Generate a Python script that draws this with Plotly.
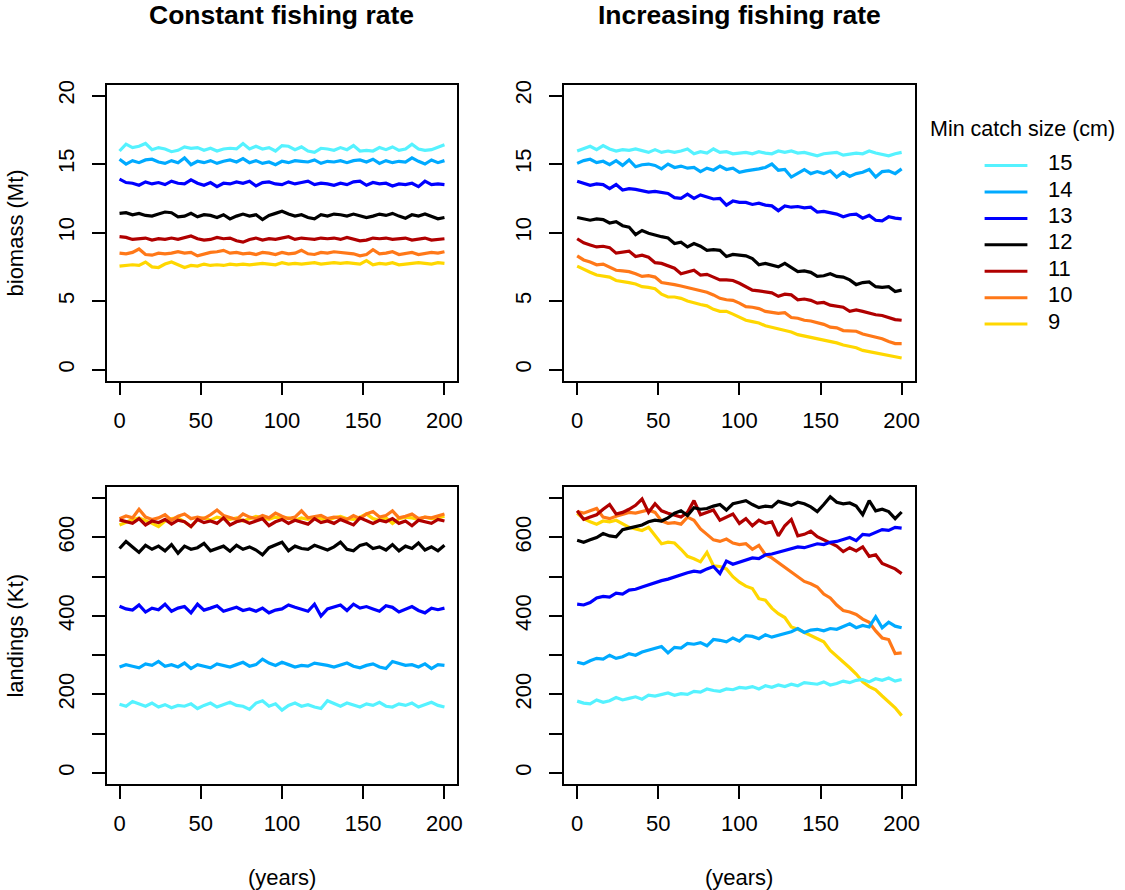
import plotly.graph_objects as go

# ---- data -------------------------------------------------------------
years = list(range(0, 201, 4))
sizes = ["15", "14", "13", "12", "11", "10", "9"]
colors = {
    "15": "#55F2FF",
    "14": "#00AAFF",
    "13": "#0000FF",
    "12": "#000000",
    "11": "#B00000",
    "10": "#FF7818",
    "9": "#FFD700",
}

# biomass (Mt), constant fishing rate
bio_const_15 = [15.95, 16.45, 16.2, 16.3, 16.5, 16.05, 16.2, 16.1, 15.9, 16.0,
                16.25, 16.15, 16.2, 16.0, 16.15, 15.95, 16.1, 16.15, 16.1, 16.5,
                16.1, 16.3, 16.1, 16.2, 15.95, 16.35, 16.3, 16.05, 16.25, 15.95,
                15.85, 16.15, 16.1, 16.0, 16.2, 16.05, 16.35, 15.95, 16.0, 15.95,
                16.2, 16.05, 16.25, 16.0, 16.1, 16.45, 16.1, 16.0, 16.05, 16.2,
                16.4]
bio_const_14 = [15.35, 15.0, 15.25, 15.1, 15.3, 15.35, 15.15, 15.05, 15.25, 15.1,
                15.45, 14.95, 15.2, 15.1, 15.25, 15.05, 15.2, 15.3, 15.15, 15.4,
                15.1, 15.25, 15.05, 15.15, 14.95, 15.2, 15.1, 15.25, 15.2, 15.15,
                15.3, 15.05, 15.2, 15.15, 15.25, 15.1, 15.25, 15.3, 15.15, 15.35,
                15.05, 15.25, 15.1, 15.2, 15.15, 15.45, 15.2, 15.0, 15.3, 15.1,
                15.25]
bio_const_13 = [13.9, 13.65, 13.6, 13.45, 13.7, 13.55, 13.65, 13.5, 13.75, 13.6,
                13.55, 13.85, 13.6, 13.45, 13.65, 13.35, 13.6, 13.55, 13.7, 13.6,
                13.75, 13.4, 13.65, 13.7, 13.55, 13.5, 13.7, 13.55, 13.65, 13.75,
                13.5, 13.6, 13.55, 13.45, 13.6, 13.5, 13.7, 13.75, 13.45, 13.65,
                13.55, 13.6, 13.4, 13.55, 13.5, 13.6, 13.35, 13.75, 13.5, 13.55,
                13.5]
bio_const_12 = [11.4, 11.45, 11.3, 11.4, 11.25, 11.2, 11.35, 11.5, 11.45, 11.15,
                11.2, 11.4, 11.15, 11.3, 11.25, 11.1, 11.3, 11.0, 11.2, 11.35,
                11.2, 11.3, 10.95, 11.25, 11.4, 11.55, 11.35, 11.2, 11.3, 11.1,
                11.0, 11.3, 11.2, 11.35, 11.3, 11.2, 11.35, 11.25, 11.1, 11.2,
                11.35, 11.25, 11.4, 11.2, 11.05, 11.3, 11.2, 11.35, 11.15, 11.0,
                11.1]
bio_const_11 = [9.7, 9.65, 9.5, 9.55, 9.6, 9.45, 9.55, 9.5, 9.6, 9.5,
                9.65, 9.75, 9.55, 9.45, 9.5, 9.65, 9.55, 9.6, 9.4, 9.3,
                9.5, 9.6, 9.45, 9.55, 9.5, 9.6, 9.7, 9.5, 9.6, 9.55,
                9.5, 9.6, 9.55, 9.6, 9.5, 9.65, 9.55, 9.4, 9.45, 9.6,
                9.55, 9.6, 9.5, 9.55, 9.6, 9.45, 9.55, 9.6, 9.45, 9.5,
                9.55]
bio_const_10 = [8.5, 8.45, 8.55, 8.8, 8.4, 8.35, 8.5, 8.45, 8.5, 8.6,
                8.5, 8.55, 8.3, 8.45, 8.55, 8.6, 8.7, 8.5, 8.55, 8.45,
                8.5, 8.4, 8.55, 8.5, 8.4, 8.55, 8.45, 8.5, 8.7, 8.45,
                8.4, 8.55, 8.5, 8.6, 8.55, 8.5, 8.45, 8.3, 8.4, 8.75,
                8.45, 8.5, 8.6, 8.4, 8.5, 8.55, 8.4, 8.5, 8.55, 8.5,
                8.6]
bio_const_9 = [7.55, 7.6, 7.65, 7.6, 7.85, 7.5, 7.45, 7.7, 7.85, 7.65,
               7.45, 7.6, 7.55, 7.7, 7.6, 7.65, 7.6, 7.7, 7.65, 7.7,
               7.65, 7.7, 7.75, 7.7, 7.65, 7.8, 7.7, 7.75, 7.7, 7.75,
               7.8, 7.7, 7.75, 7.8, 7.75, 7.8, 7.75, 7.7, 7.95, 7.65,
               7.75, 7.7, 7.8, 7.65, 7.7, 7.75, 7.8, 7.75, 7.7, 7.8,
               7.75]

# biomass (Mt), increasing fishing rate
bio_incr_15 = [15.95, 16.15, 16.3, 16.05, 16.35, 16.1, 15.95, 16.05, 16.0, 16.1,
               15.95, 15.85, 16.05, 15.85, 15.95, 15.85, 15.95, 16.1, 15.75, 15.9,
               15.8, 16.1, 15.85, 15.9, 15.75, 15.8, 15.85, 15.75, 15.9, 15.8,
               15.75, 15.95, 15.85, 15.95, 15.8, 15.85, 15.7, 15.6, 15.75, 15.8,
               15.85, 15.65, 15.75, 15.8, 15.75, 15.95, 15.8, 15.7, 15.6, 15.75,
               15.85]
bio_incr_14 = [15.05, 15.25, 15.35, 15.1, 15.2, 14.95, 15.25, 14.9, 15.3, 14.8,
               14.95, 15.0, 14.9, 14.65, 15.0, 14.75, 14.85, 14.7, 14.75, 14.45,
               14.7, 14.55, 14.85, 14.6, 14.7, 14.4, 14.5, 14.55, 14.65, 14.75,
               15.0, 14.55, 14.6, 14.05, 14.35, 14.6, 14.3, 14.45, 14.3, 14.5,
               14.05, 14.4, 14.1, 14.3, 14.4, 14.6, 14.05, 14.45, 14.5, 14.3,
               14.65]
bio_incr_13 = [13.75, 13.6, 13.45, 13.55, 13.5, 13.2, 13.5, 13.1, 13.2, 13.15,
               13.05, 12.95, 13.0, 12.95, 12.85, 12.55, 12.5, 12.8, 12.5, 12.75,
               12.6, 12.45, 12.5, 12.0, 12.3, 12.2, 12.2, 12.05, 12.15, 12.0,
               11.95, 11.6, 11.95, 11.85, 11.9, 11.8, 11.85, 11.5, 11.55, 11.45,
               11.35, 11.15, 11.3, 11.35, 11.05, 11.25, 10.9, 10.85, 11.15, 11.05,
               11.0]
bio_incr_12 = [11.1, 11.0, 10.9, 11.0, 10.95, 10.7, 10.8, 10.5, 10.4, 9.85,
               10.15, 9.95, 9.8, 9.7, 9.6, 9.2, 9.3, 8.95, 9.2, 9.0,
               8.7, 8.75, 8.7, 8.25, 8.4, 8.35, 8.3, 8.1, 7.65, 7.75,
               7.6, 7.5, 7.75, 7.45, 7.15, 7.2, 7.1, 6.8, 6.85, 7.0,
               6.8, 6.75, 6.55, 6.2, 6.35, 6.4, 6.05, 6.0, 6.05, 5.7,
               5.8]
bio_incr_11 = [9.55, 9.25, 9.1, 8.95, 9.0, 8.9, 8.5, 8.6, 8.65, 8.25,
               8.35, 8.2, 7.8, 7.75, 7.6, 7.4, 7.0, 7.1, 7.25, 6.9,
               6.95, 6.75, 6.55, 6.55, 6.5, 6.3, 6.05, 5.8, 5.75, 5.7,
               5.6, 5.35, 5.5, 5.45, 5.1, 5.15, 5.05, 4.85, 4.9, 4.7,
               4.6, 4.55, 4.25, 4.35, 4.25, 4.1, 4.0, 3.95, 3.8, 3.65,
               3.6]
bio_incr_10 = [8.3, 8.0, 7.85, 7.65, 7.7, 7.45, 7.25, 7.2, 7.15, 7.0,
               6.8, 6.85, 6.75, 6.35, 6.3, 6.2, 6.1, 6.0, 5.9, 5.75,
               5.65, 5.45, 5.2, 5.1, 5.05, 4.85, 4.6, 4.55, 4.45, 4.25,
               4.2, 4.1, 4.15, 3.8, 3.75, 3.6, 3.55, 3.45, 3.3, 3.1,
               3.05, 2.85, 2.8, 2.8, 2.6, 2.5, 2.4, 2.25, 2.05, 1.9,
               1.9]
bio_incr_9 = [7.55, 7.3, 7.1, 6.9, 6.85, 6.75, 6.5, 6.45, 6.35, 6.25,
              6.05, 6.0, 5.9, 5.5, 5.3, 5.3, 5.2, 5.0, 4.85, 4.75,
              4.65, 4.4, 4.25, 4.25, 4.05, 3.85, 3.6, 3.5, 3.4, 3.2,
              3.1, 2.95, 2.85, 2.75, 2.55, 2.45, 2.4, 2.3, 2.15, 2.05,
              1.95, 1.8, 1.7, 1.6, 1.4, 1.3, 1.2, 1.1, 1.0, 0.95,
              0.85]

# landings (Kt), constant fishing rate
land_const_15 = [175, 170, 182, 176, 170, 178, 168, 174, 166, 172,
                 170, 176, 164, 172, 178, 168, 175, 180, 172, 170,
                 162, 178, 184, 170, 176, 160, 172, 178, 170, 174,
                 168, 164, 184, 176, 170, 178, 172, 168, 176, 172,
                 180, 170, 168, 176, 172, 178, 168, 174, 180, 172,
                 168]
land_const_14 = [270, 276, 272, 268, 278, 274, 284, 272, 276, 270,
                 280, 266, 276, 272, 268, 278, 274, 270, 276, 282,
                 272, 276, 290, 280, 274, 282, 276, 270, 274, 272,
                 280, 278, 274, 270, 276, 280, 272, 268, 274, 278,
                 270, 266, 284, 278, 274, 276, 270, 278, 266, 276,
                 274]
land_const_13 = [425, 418, 415, 428, 410, 420, 416, 430, 412, 420,
                 424, 408, 430, 415, 420, 426, 412, 418, 422, 414,
                 418, 412, 420, 408, 415, 418, 428, 422, 416, 412,
                 430, 400, 418, 422, 428, 414, 430, 420, 424, 418,
                 412, 426, 422, 410, 418, 424, 414, 408, 420, 416,
                 420]
land_const_12 = [572, 590, 576, 562, 580, 570, 578, 566, 582, 560,
                 578, 570, 574, 585, 566, 572, 578, 565, 580, 570,
                 576, 568, 556, 574, 580, 588, 566, 578, 572, 570,
                 580, 574, 568, 576, 588, 570, 566, 580, 584, 572,
                 576, 568, 582, 566, 578, 572, 586, 568, 576, 566,
                 580]
land_const_11 = [645, 640, 636, 648, 632, 642, 638, 646, 634, 644,
                 640, 628, 646, 638, 642, 636, 650, 632, 640, 644,
                 636, 642, 648, 630, 640, 646, 636, 644, 640, 634,
                 648, 638, 642, 636, 646, 640, 632, 650, 642, 636,
                 644, 640, 648, 636, 642, 630, 644, 640, 636, 646,
                 642]
land_const_10 = [648, 655, 650, 672, 652, 646, 650, 658, 644, 654,
                 660, 648, 652, 648, 658, 670, 656, 650, 646, 660,
                 652, 648, 656, 650, 662, 654, 648, 652, 668, 650,
                 654, 656, 648, 652, 650, 646, 656, 648, 660, 666,
                 652, 656, 668, 650, 654, 660, 648, 652, 650, 654,
                 660]
land_const_9 = [632, 640, 646, 650, 644, 636, 628, 642, 648, 650,
                640, 628, 646, 650, 644, 652, 648, 646, 650, 642,
                648, 654, 650, 646, 652, 648, 650, 644, 650, 646,
                652, 648, 644, 650, 654, 648, 646, 652, 660, 648,
                644, 650, 636, 648, 652, 650, 646, 652, 648, 650,
                654]

# landings (Kt), increasing fishing rate
land_incr_15 = [183, 178, 176, 186, 180, 184, 192, 186, 190, 194,
                188, 198, 196, 200, 204, 198, 202, 200, 208, 206,
                214, 210, 208, 214, 212, 218, 216, 220, 214, 222,
                218, 224, 220, 226, 222, 230, 228, 226, 232, 224,
                228, 234, 230, 236, 238, 232, 240, 236, 242, 234,
                238]
land_incr_14 = [282, 278, 286, 292, 290, 300, 292, 296, 304, 300,
                308, 312, 316, 322, 306, 320, 318, 330, 328, 332,
                324, 340, 338, 334, 344, 336, 350, 348, 342, 352,
                346, 350, 356, 360, 368, 358, 364, 366, 362, 368,
                366, 372, 380, 370, 376, 372, 398, 370, 384, 374,
                370]
land_incr_13 = [430, 428, 434, 446, 450, 448, 458, 456, 466, 468,
                474, 480, 486, 490, 494, 500, 506, 510, 514, 512,
                520, 526, 508, 540, 532, 538, 544, 548, 546, 556,
                558, 562, 566, 570, 576, 574, 580, 584, 582, 588,
                590, 596, 600, 592, 608, 606, 614, 620, 618, 626,
                624]
land_incr_12 = [593, 588, 594, 600, 610, 604, 602, 620, 624, 628,
                632, 640, 644, 642, 650, 662, 668, 656, 676, 672,
                674, 680, 684, 670, 686, 690, 694, 684, 676, 680,
                678, 692, 688, 682, 690, 686, 678, 666, 684, 704,
                690, 686, 688, 680, 658, 694, 668, 672, 666, 648,
                665]
land_incr_11 = [668, 646, 652, 658, 672, 684, 660, 664, 672, 682,
                698, 664, 686, 668, 662, 658, 652, 664, 694, 658,
                664, 670, 644, 652, 660, 636, 648, 630, 644, 636,
                640, 604, 630, 646, 604, 608, 616, 602, 594, 586,
                578, 564, 574, 566, 576, 552, 556, 534, 526, 520,
                508]
land_incr_10 = [666, 662, 668, 674, 652, 648, 654, 660, 664, 662,
                666, 670, 664, 642, 636, 638, 634, 652, 644, 622,
                608, 594, 590, 596, 586, 582, 584, 570, 580, 556,
                548, 536, 526, 512, 500, 488, 482, 474, 456, 446,
                428, 414, 410, 404, 392, 384, 362, 344, 340, 304,
                306]
land_incr_9 = [662, 648, 640, 634, 642, 640, 644, 636, 626, 622,
               618, 626, 604, 584, 588, 586, 570, 552, 546, 538,
               562, 528, 526, 520, 500, 486, 476, 470, 444, 440,
               420, 406, 396, 372, 366, 358, 350, 340, 334, 312,
               298, 284, 268, 252, 232, 220, 212, 196, 180, 166,
               146]

bio_const = {"15": bio_const_15, "14": bio_const_14, "13": bio_const_13, "12": bio_const_12,
             "11": bio_const_11, "10": bio_const_10, "9": bio_const_9}
bio_incr = {"15": bio_incr_15, "14": bio_incr_14, "13": bio_incr_13, "12": bio_incr_12,
            "11": bio_incr_11, "10": bio_incr_10, "9": bio_incr_9}
land_const = {"15": land_const_15, "14": land_const_14, "13": land_const_13, "12": land_const_12,
              "11": land_const_11, "10": land_const_10, "9": land_const_9}
land_incr = {"15": land_incr_15, "14": land_incr_14, "13": land_incr_13, "12": land_incr_12,
             "11": land_incr_11, "10": land_incr_10, "9": land_incr_9}

for block in (bio_const, bio_incr, land_const, land_incr):
    for k, v in block.items():
        assert len(v) == len(years), (k, len(v))

# ---- figure -----------------------------------------------------------
W, H = 1125, 890
FONT = "Liberation Sans, Arial, Helvetica, sans-serif"

fig = go.Figure()

panels = [
    (bio_const, "x", "y"),
    (bio_incr, "x2", "y2"),
    (land_const, "x3", "y3"),
    (land_incr, "x4", "y4"),
]
# smallest catch size drawn first so larger sizes sit on top
for data, xa, ya in panels:
    for s in reversed(sizes):
        fig.add_trace(go.Scatter(
            x=years, y=data[s], mode="lines", xaxis=xa, yaxis=ya,
            line=dict(color=colors[s], width=3.2), showlegend=False,
            hoverinfo="skip",
        ))

col_left = [107 / W, 459.5 / W]
col_right = [566.7 / W, 918.7 / W]
row_top = [1 - 377.7 / H, 1 - 80 / H]
row_bot = [1 - 783.3 / H, 1 - 485 / H]

axis_common = dict(
    showline=True, mirror=True, linecolor="black", linewidth=1.8,
    ticks="outside", ticklen=13, tickwidth=1.6, tickcolor="black",
    showgrid=False, zeroline=False,
    tickfont=dict(family=FONT, size=22, color="black"),
)
xcommon = dict(axis_common, range=[-8, 208], tickvals=[0, 50, 100, 150, 200],
               ticklabelstandoff=6)
bio_y = dict(axis_common, range=[-0.8, 20.8], tickvals=[0, 5, 10, 15, 20], tickangle=-90,
             ticklabelstandoff=9)
land_y = dict(axis_common, range=[-28, 728], tickvals=[0, 100, 200, 300, 400, 500, 600, 700],
              ticktext=["0", "", "200", "", "400", "", "600", ""], tickangle=-90,
              ticklabelstandoff=9)

fig.update_layout(
    width=W, height=H,
    margin=dict(l=0, r=0, t=0, b=0),
    paper_bgcolor="white", plot_bgcolor="white",
    showlegend=False,
    font=dict(family=FONT, color="black"),
    xaxis=dict(xcommon, domain=col_left, anchor="y"),
    yaxis=dict(bio_y, domain=row_top, anchor="x"),
    xaxis2=dict(xcommon, domain=col_right, anchor="y2"),
    yaxis2=dict(bio_y, domain=row_top, anchor="x2"),
    xaxis3=dict(xcommon, domain=col_left, anchor="y3"),
    yaxis3=dict(land_y, domain=row_bot, anchor="x3"),
    xaxis4=dict(xcommon, domain=col_right, anchor="y4"),
    yaxis4=dict(land_y, domain=row_bot, anchor="x4"),
)

annotations = []
# column titles
for txt, xc in (("Constant fishing rate", sum(col_left) / 2),
                ("Increasing fishing rate", sum(col_right) / 2)):
    annotations.append(dict(text="<b>%s</b>" % txt, x=xc, y=1 - 10 / H, xref="paper", yref="paper",
                            xanchor="center", yanchor="middle", showarrow=False,
                            font=dict(family=FONT, size=26.5, color="black")))
    annotations.append(dict(text="(years)", x=xc, y=1 - 877 / H, xref="paper", yref="paper",
                            xanchor="center", yanchor="middle", showarrow=False,
                            font=dict(family=FONT, size=22, color="black")))
# row titles
for txt, yc in (("biomass (Mt)", sum(row_top) / 2), ("landings (Kt)", sum(row_bot) / 2)):
    annotations.append(dict(text=txt, x=16 / W, y=yc, xref="paper", yref="paper",
                            xanchor="center", yanchor="middle", textangle=-90, showarrow=False,
                            font=dict(family=FONT, size=22, color="black")))

# legend, built by hand to the right of the top row
annotations.append(dict(text="Min catch size (cm)", x=932 / W, y=1 - 125 / H, xref="paper",
                        yref="paper", xanchor="left", yanchor="middle", showarrow=False,
                        font=dict(family=FONT, size=21.5, color="black")))
shapes = []
for i, s in enumerate(sizes):
    yc = 1 - (161.5 + 26.57 * i) / H
    shapes.append(dict(type="line", xref="paper", yref="paper", x0=989 / W, x1=1032 / W,
                       y0=yc, y1=yc, line=dict(color=colors[s], width=3)))
    annotations.append(dict(text=s, x=1051 / W, y=yc + 3 / H, xref="paper", yref="paper",
                            xanchor="left", yanchor="middle", showarrow=False,
                            font=dict(family=FONT, size=22, color="black")))

fig.update_layout(annotations=annotations, shapes=shapes)

fig.write_html("out.html")
